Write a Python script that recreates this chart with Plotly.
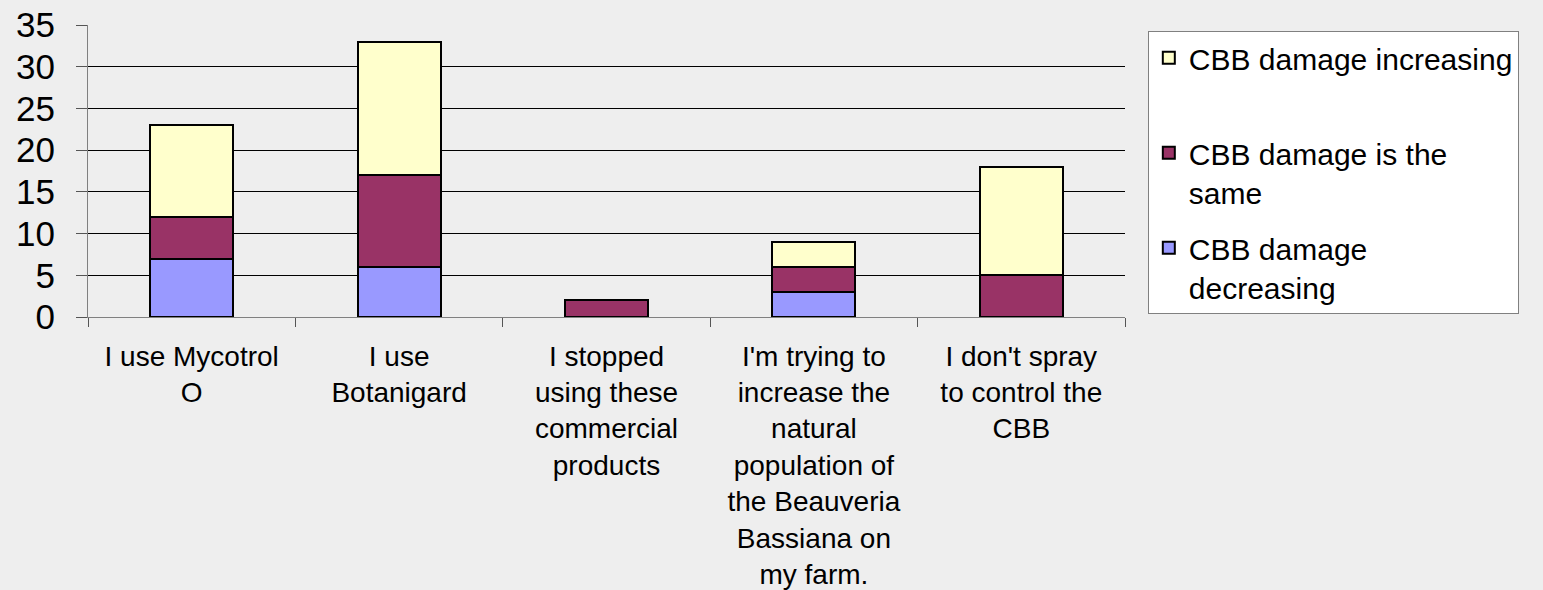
import plotly.graph_objects as go

categories = [
    "I use Mycotrol<br>O",
    "I use<br>Botanigard",
    "I stopped<br>using these<br>commercial<br>products",
    "I'm trying to<br>increase the<br>natural<br>population of<br>the Beauveria<br>Bassiana on<br>my farm.",
    "I don't spray<br>to control the<br>CBB",
]
decreasing = [7, 6, 0, 3, 0]
same = [5, 11, 2, 3, 5]
increasing = [11, 16, 0, 3, 13]
y_ticks = [0, 5, 10, 15, 20, 25, 30, 35]

series = [
    ("CBB damage<br>decreasing", decreasing, "#9999FF", 3),
    ("CBB damage is the<br>same", same, "#993366", 2),
    ("CBB damage increasing<br>&nbsp;", increasing, "#FFFFCC", 1),
]

FONT = "Liberation Sans, Arial, sans-serif"

fig = go.Figure()
for i, (name, vals, color, rank) in enumerate(series):
    fig.add_trace(go.Bar(
        x=list(range(len(categories))),
        y=vals,
        name=name,
        legendgroup=f"g{i}",
        legendrank=rank,
        marker=dict(color=color, line=dict(color="#000000", width=2)),
        width=0.4,
    ))

fig.update_layout(
    barmode="stack",
    width=1543,
    height=590,
    margin=dict(l=88, r=418, t=25, b=273, autoexpand=False),
    paper_bgcolor="#EEEEEE",
    plot_bgcolor="#EEEEEE",
    font=dict(family=FONT, color="#000000"),
    showlegend=True,
    legend=dict(
        x=1.022, xanchor="left",
        y=0.98, yanchor="top",
        bgcolor="#FFFFFF",
        bordercolor="#808080",
        borderwidth=1,
        font=dict(family=FONT, size=30, color="#000000"),
        traceorder="grouped",
        tracegroupgap=14,
        valign="top",
        itemclick=False,
    ),
    xaxis=dict(
        type="linear",
        range=[-0.5, 4.5],
        tickmode="array",
        tickvals=list(range(len(categories))),
        ticktext=categories,
        ticks="",
        showgrid=False,
        showline=True,
        linecolor="#808080",
        linewidth=1,
        tickfont=dict(family=FONT, size=28, color="#000000"),
        zeroline=False,
        ticklabelstandoff=14,
        automargin=False,
    ),
    yaxis=dict(
        range=[0, 35],
        tickmode="array",
        tickvals=y_ticks,
        ticks="outside",
        ticklen=11,
        tickcolor="#555555",
        showgrid=True,
        gridcolor="#000000",
        gridwidth=1,
        showline=True,
        linecolor="#808080",
        linewidth=1,
        zeroline=False,
        tickfont=dict(family=FONT, size=35, color="#000000"),
        ticklabelstandoff=14,
        automargin=False,
    ),
    xaxis2=dict(
        overlaying="x",
        range=[-0.5, 4.5],
        tickmode="array",
        tickvals=[-0.5, 0.5, 1.5, 2.5, 3.5, 4.5],
        ticktext=[""] * 6,
        ticks="outside",
        ticklen=9,
        tickcolor="#555555",
        showgrid=False,
        showline=False,
        zeroline=False,
        side="bottom",
        anchor="y",
        automargin=False,
    ),
)
fig.add_trace(go.Scatter(x=[-0.5, 4.5], y=[None, None], xaxis="x2",
                         showlegend=False, hoverinfo="skip"))

fig.write_html(
    "out.html",
    config={"displayModeBar": False},
    post_script="document.body.style.margin='0';document.body.style.overflow='hidden';",
)
